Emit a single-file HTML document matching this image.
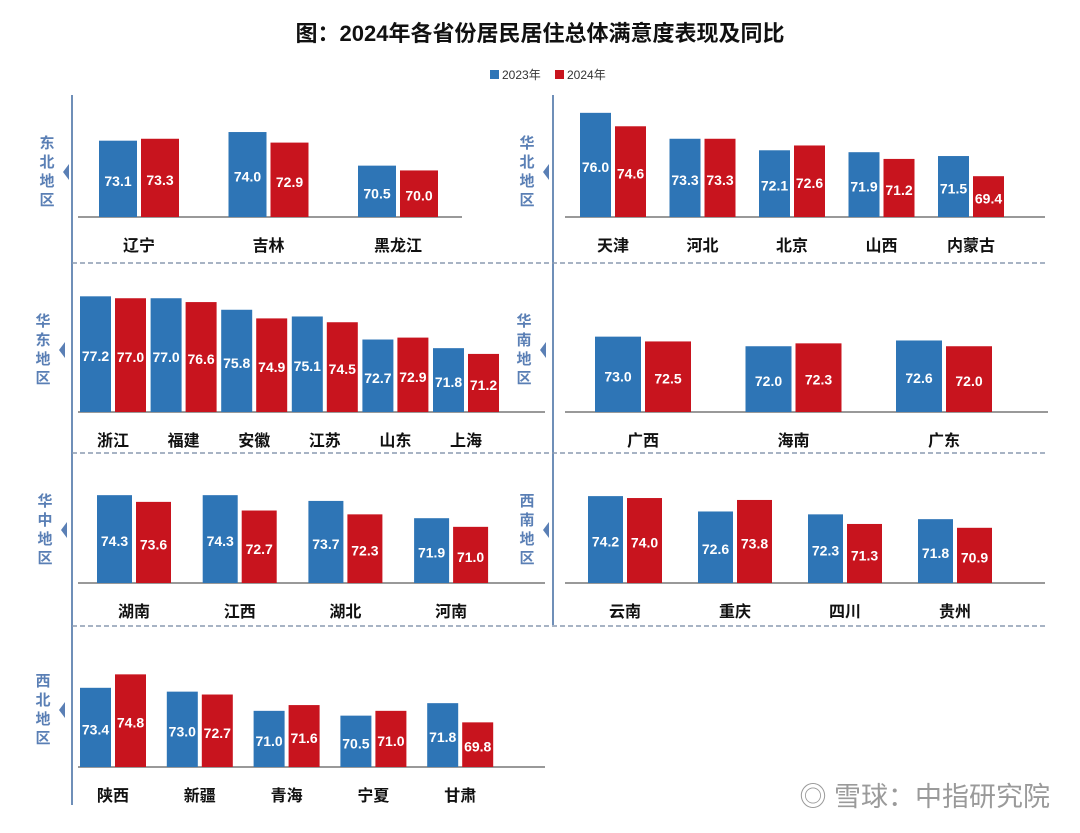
<!DOCTYPE html>
<html><head><meta charset="utf-8"><style>
body{margin:0;background:#fff;width:1080px;height:828px;overflow:hidden;font-family:"Liberation Sans","Noto Sans CJK SC",sans-serif}
svg text{font-family:"Liberation Sans","Noto Sans CJK SC",sans-serif}
</style></head><body>
<svg id="chart" width="1080" height="828">
<text x="540" y="41" text-anchor="middle" font-size="22" font-weight="bold" fill="#111">图：2024年各省份居民居住总体满意度表现及同比</text>
<g>
<rect x="490" y="70" width="9" height="9" fill="#2e75b6"/>
<text x="502" y="79" font-size="12" fill="#333">2023年</text>
<rect x="555" y="70" width="9" height="9" fill="#c8141e"/>
<text x="567" y="79" font-size="12" fill="#333">2024年</text>
</g>
<g stroke="#6f8fb8">
<line x1="72" y1="95" x2="72" y2="805" stroke-width="2"/>
<line x1="553" y1="95" x2="553" y2="625" stroke-width="2"/>
<line x1="72" y1="263" x2="1048" y2="263" stroke-dasharray="5,3" stroke="#8a9ab0" stroke-width="1.5"/>
<line x1="72" y1="453" x2="1048" y2="453" stroke-dasharray="5,3" stroke="#8a9ab0" stroke-width="1.5"/>
<line x1="72" y1="626" x2="1048" y2="626" stroke-dasharray="5,3" stroke="#8a9ab0" stroke-width="1.5"/>
</g>
<text x="1050" y="806" text-anchor="end" font-size="27" fill="#9a9a9a">◎ 雪球：中指研究院</text>
<g id="panels"></g>
</svg>
<script>
const regions=["东北地区","华北地区","华东地区","华南地区","华中地区","西南地区","西北地区"];
const provinces=[["辽宁","吉林","黑龙江"],["天津","河北","北京","山西","内蒙古"],["浙江","福建","安徽","江苏","山东","上海"],["广西","海南","广东"],["湖南","江西","湖北","河南"],["云南","重庆","四川","贵州"],["陕西","新疆","青海","宁夏","甘肃"]];
const values2023=[[73.1,74.0,70.5],[76.0,73.3,72.1,71.9,71.5],[77.2,77.0,75.8,75.1,72.7,71.8],[73.0,72.0,72.6],[74.3,74.3,73.7,71.9],[74.2,72.6,72.3,71.8],[73.4,73.0,71.0,70.5,71.8]];
const values2024=[[73.3,72.9,70.0],[74.6,73.3,72.6,71.2,69.4],[77.0,76.6,74.9,74.5,72.9,71.2],[72.5,72.3,72.0],[73.6,72.7,72.3,71.0],[74.0,73.8,71.3,70.9],[74.8,72.7,71.6,71.0,69.8]];
// layout: x0,x1 baseline, first center, step, bar width, label x
const geo=[[78,462,217,139,129.5,38,47,172],[565,1045,217,613,89.5,31,527,172],[78,545,412,113,70.6,31,43,350],[565,1048,412,643,150.5,46,524,350],[78,545,583,134,105.7,35,45,530],[565,1045,583,625,110,35,527,530],[78,545,767,113,86.8,31,43,710]];
const V0=65.15,K=9.6;
const y=(v,b)=>b-(v-V0)*K;
const NS="http://www.w3.org/2000/svg";
const root=document.getElementById('panels');
function mk(t,a,p){const e=document.createElementNS(NS,t);for(const k in a)e.setAttribute(k,a[k]);p.appendChild(e);return e;}
regions.forEach((r,i)=>{
 const [x0,x1,b,c0,st,w,lx,ly]=geo[i];
 const g=mk('g',{},root);
 
 
 const t=mk('text',{x:lx,'font-size':15,'font-weight':'bold',fill:'#5a7fb5','text-anchor':'middle'},g);
 
 
 [...r].forEach((ch,j)=>{const s=mk('tspan',{x:lx,y:ly-24+j*19},t);s.textContent=ch;});
 const tri=mk('polygon',{points:`${lx+22},${ly-8} ${lx+16},${ly} ${lx+22},${ly+8}`,fill:'#5a7fb5'},g);
 
 
 const ax=mk('line',{x1:x0,x2:x1,y1:b,y2:b,stroke:'#999','stroke-width':2},g);
 
 
 provinces[i].forEach((p,j)=>{
  const c=c0+j*st;
  [[values2023[i][j],'#2e75b6',c-w-2],[values2024[i][j],'#c8141e',c+2]].forEach(([v,col,bx],k)=>{
   const top=y(v,b);
   const rc=mk('rect',{x:bx,y:top,width:w,height:b-top,fill:col},g);
   
   
   const tv=mk('text',{x:bx+w/2,y:(top+b)/2+7,'text-anchor':'middle','font-size':14,'font-weight':'bold',fill:'#fff'},g);
   tv.textContent=v.toFixed(1);
   
   
  });
  const tl=mk('text',{x:c,y:b+34,'text-anchor':'middle','font-size':16,'font-weight':'bold',fill:'#111'},g);
  tl.textContent=p;
  
  
 });
});
</script>
</body></html>
